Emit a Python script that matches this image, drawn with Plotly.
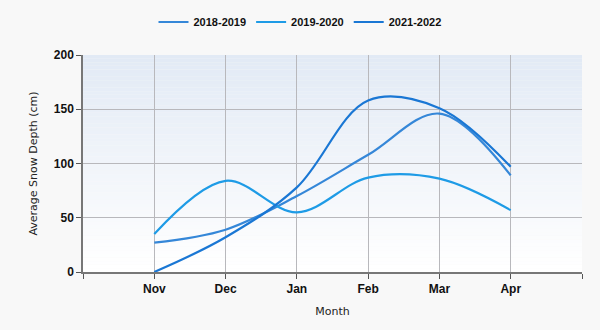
import plotly.graph_objects as go

months = ["Nov", "Dec", "Jan", "Feb", "Mar", "Apr"]
series_names = ["2018-2019", "2019-2020", "2021-2022"]
depth_2018_2019 = [27, 39, 70, 108, 146, 89]
depth_2019_2020 = [35, 84, 55, 87, 86, 57]
depth_2021_2022 = [0, 32, 78, 158, 151, 97]
series_values = [depth_2018_2019, depth_2019_2020, depth_2021_2022]
colors = ["#3587d8", "#1e9be6", "#1a77d4"]

x_pos = list(range(len(months)))

fig = go.Figure()
for name, vals, col in zip(series_names, series_values, colors):
    fig.add_trace(go.Scatter(
        x=x_pos, y=vals, name=name, mode="lines",
        line=dict(color=col, width=2.2, shape="spline", smoothing=1.0),
    ))

# vertical gradient behind the plotting area
shapes = []
n = 60
top = (226, 234, 245)
bot = (255, 255, 255)
for i in range(n):
    t = i / (n - 1)
    c = tuple(round(top[k] + (bot[k] - top[k]) * t) for k in range(3))
    shapes.append(dict(
        type="rect", xref="x domain", yref="y domain",
        x0=0, x1=1, y0=1 - (i + 1) / n, y1=1 - i / n,
        fillcolor="rgb(%d,%d,%d)" % c, line=dict(width=0), layer="below",
    ))

tickvals = list(range(-1, len(months) + 1))
ticktext = [""] + months + [""]

tick_font = dict(family="Liberation Sans", size=12, color="#111", weight="bold")
title_font = dict(family="DejaVu Sans", size=11, color="#222")

fig.update_layout(
    width=600, height=330,
    margin=dict(l=83, r=18, t=55, b=58, autoexpand=False),
    paper_bgcolor="#f8f8f8",
    plot_bgcolor="rgba(0,0,0,0)",
    shapes=shapes,
    showlegend=True,
    legend=dict(
        orientation="h", x=0.5, xanchor="center",
        y=1 - 22 / 330, yanchor="middle", yref="container", xref="container",
        font=dict(family="Liberation Sans", size=11, color="#111", weight="bold"),
        itemwidth=30, tracegroupgap=0, bgcolor="rgba(0,0,0,0)",
    ),
    font=dict(family="DejaVu Sans", color="#222"),
)

fig.update_xaxes(
    range=[-1, 6], tickmode="array", tickvals=tickvals, ticktext=ticktext,
    showgrid=True, gridcolor="#b8b8bc", gridwidth=1,
    showline=True, linecolor="#777", linewidth=1.5,
    ticks="outside", ticklen=5, tickcolor="#555",
    tickfont=tick_font,
    title=dict(text="Month", font=title_font, standoff=12),
    zeroline=False,
)
fig.update_yaxes(
    range=[0, 200], tickvals=[0, 50, 100, 150, 200],
    showgrid=True, gridcolor="#b8b8bc", gridwidth=1,
    showline=True, linecolor="#777", linewidth=1.5,
    ticks="outside", ticklen=5, tickcolor="#555",
    tickfont=tick_font,
    title=dict(text="Average Snow Depth (cm)", font=title_font, standoff=14),
    zeroline=False,
)

fig.write_html("out.html")
